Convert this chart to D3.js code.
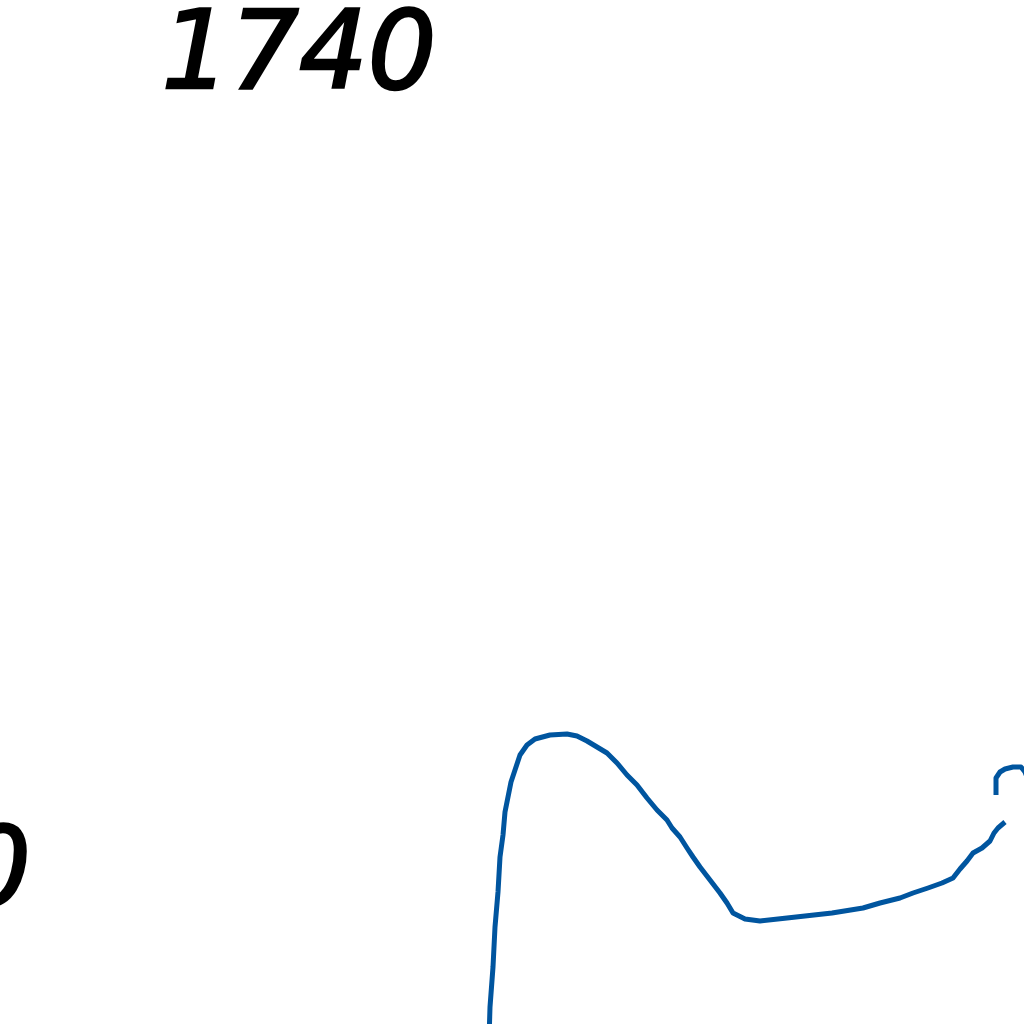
<!DOCTYPE html>
<html>
<head>
<meta charset="utf-8">
<script src="https://cdn.jsdelivr.net/npm/d3@7"></script>
<style>
  html, body { margin: 0; padding: 0; background: #ffffff; }
  svg { display: block; }
</style>
</head>
<body>
<svg id="chart" width="1024" height="1024"></svg>
<script>
// Tick labels visible in the frame
const topLabel = "1740";
const sideLabel = "0";

// Main series (x, y in data units)
const seriesAx = [244.5, 245, 246.5, 247.5, 249, 250, 251.5, 252.5, 254, 255.5, 257.5, 260, 263.5, 267.5, 275, 283.5, 288.5, 293.5, 298.5, 303.5, 308.5, 313.5, 318.5, 323.5, 328.5, 333.5, 336, 340, 343.5, 346.5, 350, 355, 360, 363.5, 366.5, 372.5, 380, 393.5, 416, 431.5, 440, 450, 456.5, 464, 471, 476.5, 480, 483.5, 486.5, 491, 495, 497, 499, 502.5];
const seriesAy = [-8, 8.5, 28.5, 48.5, 66, 83.5, 94.5, 106, 113.5, 121, 127, 134.5, 139.5, 142.5, 144.5, 145, 144, 141.5, 138.5, 135.5, 130.5, 124.5, 119.5, 113, 107, 102, 98, 93.5, 88, 83.5, 78.5, 72, 65.5, 60.5, 55.5, 52.5, 51.5, 53, 55.5, 58, 60.5, 63, 65.5, 68, 70.5, 73, 77.5, 81.5, 85.5, 88, 91.5, 95.5, 98, 101];

// Second segment at the right edge
const seriesBx = [498, 498, 500, 502.5, 506.5, 510.5, 512.5, 515];
const seriesBy = [114.5, 123, 126, 127.5, 128.5, 128.5, 126, 119.5];

const W = 1024, H = 1024;
const svg = d3.select("#chart");

const x = d3.scaleLinear().domain([0, 512]).range([0, W]);
const y = d3.scaleLinear().domain([0, 512]).range([H, 0]);

const line = d3.line()
  .x(d => x(d[0]))
  .y(d => y(d[1]))
  .curve(d3.curveLinear);

const dataA = seriesAx.map((v, i) => [v, seriesAy[i]]);
const dataB = seriesBx.map((v, i) => [v, seriesBy[i]]);

svg.append("defs").append("clipPath").attr("id", "clip")
  .append("rect").attr("x", 0).attr("y", 0).attr("width", W).attr("height", H);

const g = svg.append("g").attr("clip-path", "url(#clip)");

[dataA, dataB].forEach(d => {
  g.append("path")
    .datum(d)
    .attr("d", line)
    .attr("fill", "none")
    .attr("stroke", "#00559f")
    .attr("stroke-width", 5)
    .attr("stroke-linejoin", "round")
    .attr("stroke-linecap", "butt");
});

svg.append("text")
  .attr("x", 299)
  .attr("y", 88)
  .attr("text-anchor", "middle")
  .attr("font-family", "DejaVu Sans")
  .attr("font-style", "italic")
  .attr("font-size", 108)
  .attr("fill", "#000")
  .attr("stroke", "#000")
  .attr("stroke-width", 2.5)
  .text(topLabel);

svg.append("text")
  .attr("x", 31)
  .attr("y", 904)
  .attr("text-anchor", "end")
  .attr("font-family", "DejaVu Sans")
  .attr("font-style", "italic")
  .attr("font-size", 108)
  .attr("fill", "#000")
  .attr("stroke", "#000")
  .attr("stroke-width", 2.5)
  .text(sideLabel);
</script>
</body>
</html>
